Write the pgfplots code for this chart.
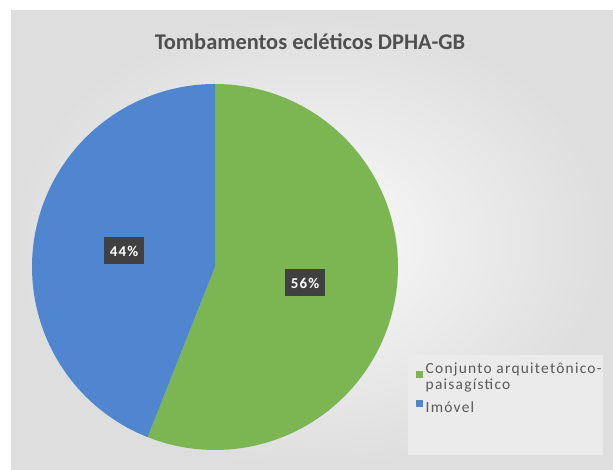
\documentclass[border=0pt]{standalone}
\usepackage{pgfplots}
\pgfplotsset{compat=1.18}
\usepackage{fontspec}
\setmainfont{Carlito}
\newfontfamily\legfont[LetterSpace=8]{Carlito}
\newfontfamily\lblfont[LetterSpace=8]{Carlito}
\definecolor{pieblue}{HTML}{5086D0}
\definecolor{piegreen}{HTML}{7BB652}
\definecolor{txtgray}{HTML}{595959}
\definecolor{lblbox}{HTML}{404040}
\begin{document}
\begin{tikzpicture}
\begin{axis}[
  width=613bp, height=470bp, scale only axis,
  xmin=0, xmax=613, ymin=0, ymax=470,
  axis lines=none, clip=false,
  legend style={at={(axis cs:416,111)}, anchor=north west, draw=none, fill=none,
    font=\legfont\fontsize{15.5}{15.5}\selectfont, text=txtgray, row sep=6bp,
    inner xsep=0pt, column sep=0.5bp, nodes={text depth=}},
  legend cell align=left,
  legend image code/.code={\fill[#1] (0bp,0bp) rectangle (7bp,7bp);},
]
% background
\fill[white] (axis cs:0,0) rectangle (axis cs:613,470);
\shade[inner color=black!2, outer color=black!13] (axis cs:11,0) rectangle (axis cs:613,459);
% legend box
\fill[black!8] (axis cs:408,15) rectangle (axis cs:603,115);
% pie slices: 56 % and 44 %, clockwise from 12 o'clock
\addplot[fill=piegreen, draw=none, domain=0:56, samples=150]
  ({215+183*sin(3.6*x)},{203+183*cos(3.6*x)}) -- (axis cs:215,203) -- cycle;
\addlegendentry{\parbox[t]{180bp}{\mbox{Conjunto arquitetônico-}\\paisagístico}}
\addplot[fill=pieblue, draw=none, domain=56:100, samples=150]
  ({215+183*sin(3.6*x)},{203+183*cos(3.6*x)}) -- (axis cs:215,203) -- cycle;
\addlegendentry{Imóvel}
% title
\node[text=txtgray!90!black, font=\bfseries\fontsize{22.5}{22.5}\selectfont] at (axis cs:310,428) {Tombamentos ecléticos DPHA-GB};
% data labels
\node[fill=lblbox, text=white, font=\lblfont\bfseries\fontsize{15}{15}\selectfont, inner xsep=6bp, minimum height=27bp] at (axis cs:124,219) {44\%};
\node[fill=lblbox, text=white, font=\lblfont\bfseries\fontsize{15}{15}\selectfont, inner xsep=6bp, minimum height=27bp] at (axis cs:305,187) {56\%};
\end{axis}
\end{tikzpicture}
\end{document}
